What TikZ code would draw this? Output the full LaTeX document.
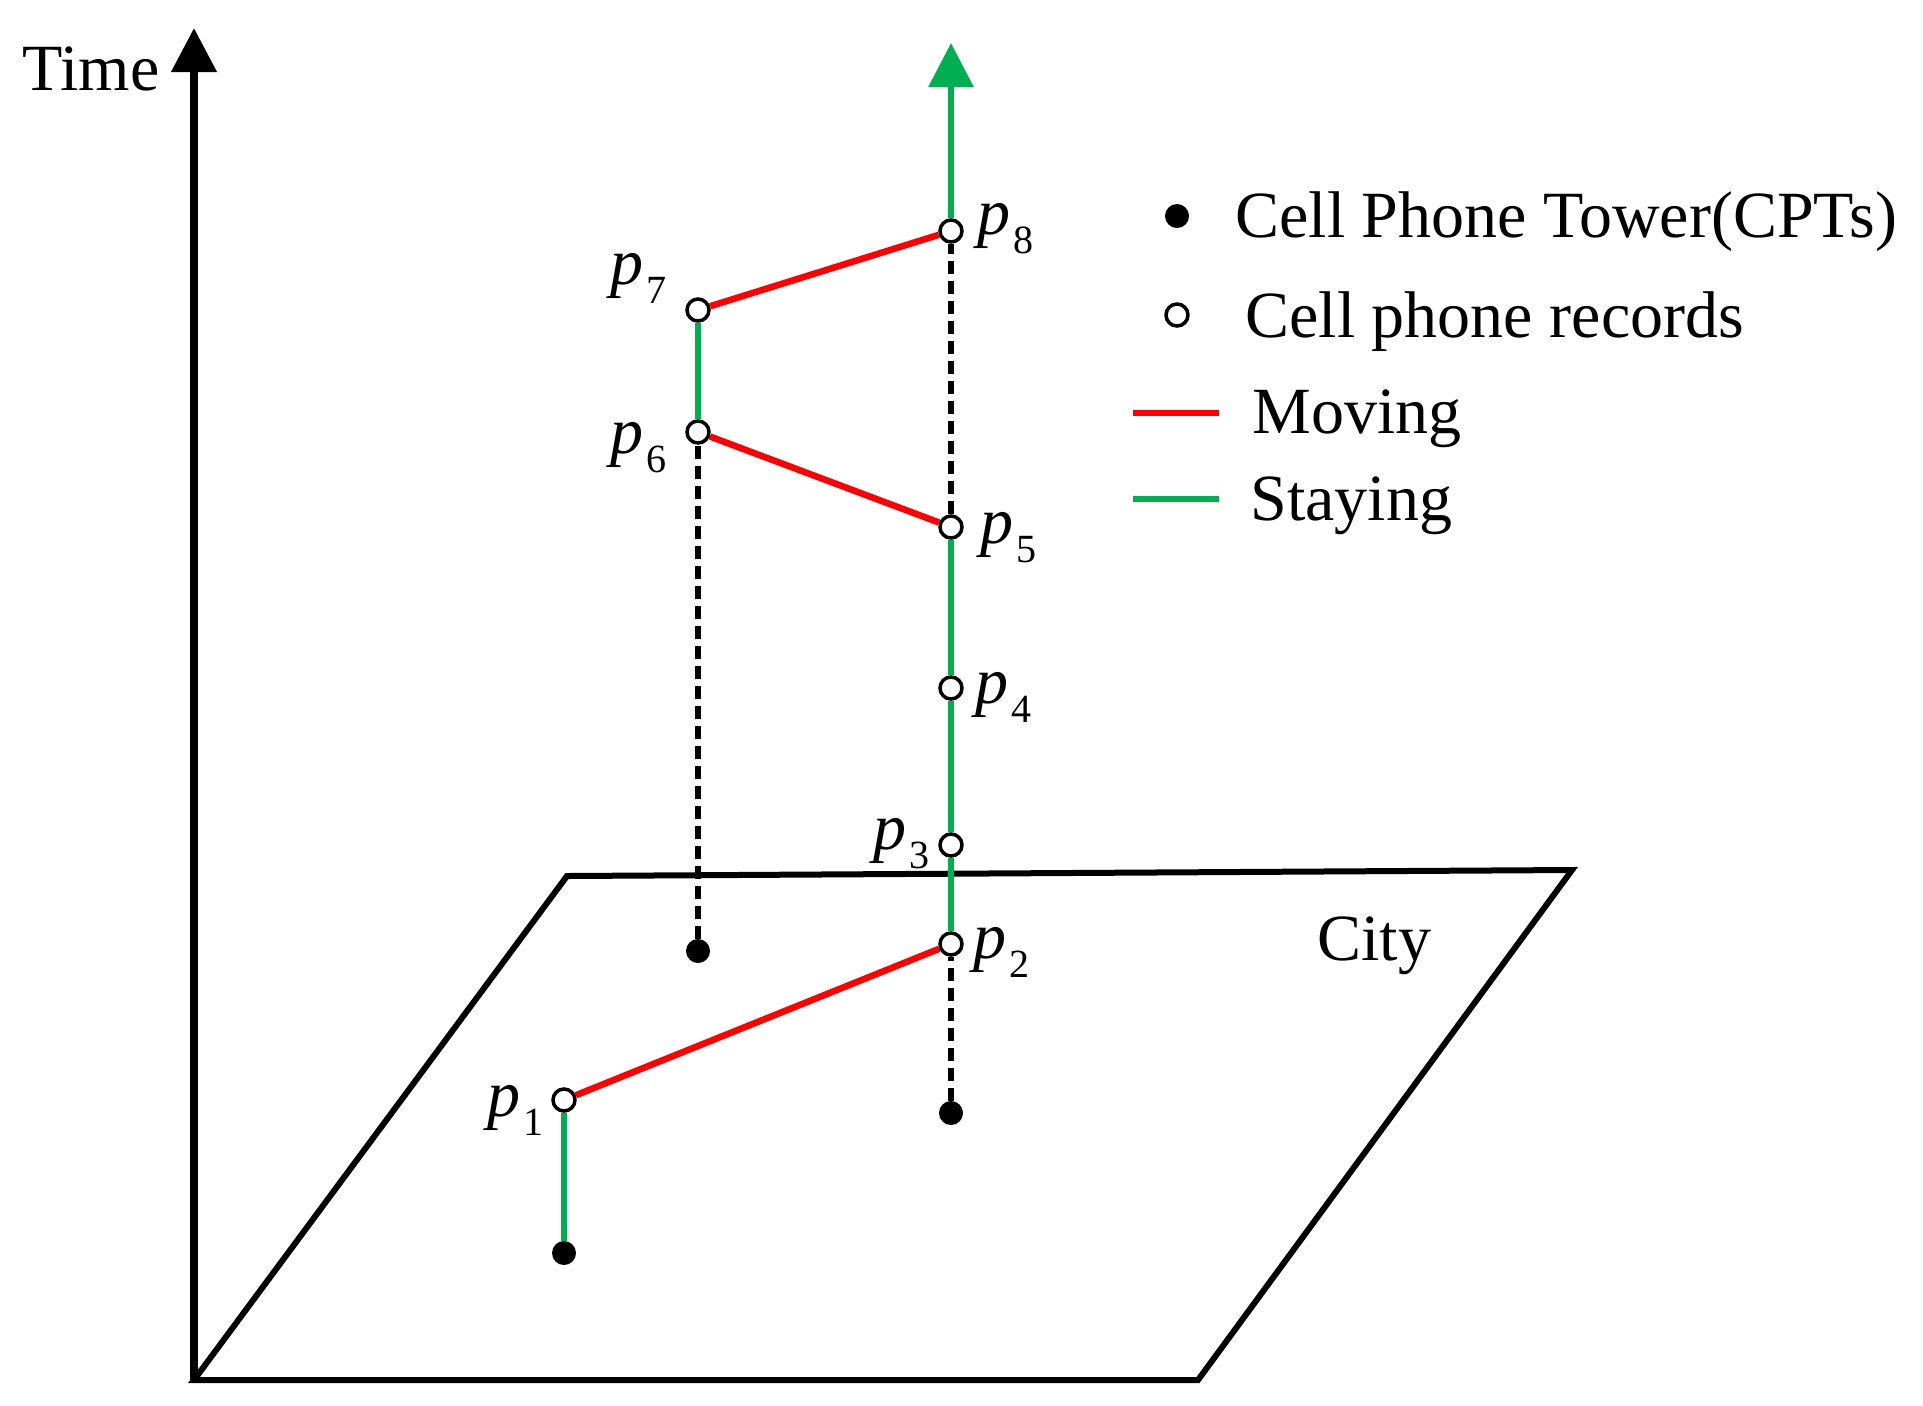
\documentclass[tikz,border=0pt]{standalone}
\usepackage{fontspec}
\setmainfont{Liberation Serif}
\usetikzlibrary{arrows.meta}
\pgfdeclarelayer{bg}
\pgfdeclarelayer{mid}
\pgfsetlayers{bg,mid,main}
\definecolor{mvred}{RGB}{255,0,0}
\definecolor{stgreen}{RGB}{0,176,80}
\newcommand{\plab}[1]{\textit{p}\kern1.5pt\raisebox{-9.5pt}{\fontsize{20}{20}\selectfont #1}}
\tikzset{
  rec/.style={circle, draw=black, fill=white, line width=1.75pt, minimum size=11pt, inner sep=0pt},
  tower/.style={circle, fill=black, minimum size=12pt, inner sep=0pt},
  moving/.style={draw=mvred, line width=3.25pt},
  staying/.style={draw=stgreen, line width=3pt},
  link/.style={draw=black, line width=3pt, dash pattern=on 6.5pt off 3.5pt},
  frame/.style={draw=black, line width=3pt, line join=miter},
  axis/.style={draw=black, line width=3.75pt, -{Triangle[width=22pt,length=22pt]}},
  txt/.style={anchor=base west, inner sep=0pt, font=\fontsize{33}{40}\selectfont}
}
\begin{document}
\begin{tikzpicture}[x=0.5pt, y=-0.5pt]
\useasboundingbox (0,0) rectangle (1923,1405);
% points
\node[rec] (p1) at (564,1100) {};
\node[rec] (p2) at (951,944) {};
\node[rec] (p3) at (951,845) {};
\node[rec] (p4) at (951,688) {};
\node[rec] (p5) at (951,527) {};
\node[rec] (p6) at (698,432) {};
\node[rec] (p7) at (698,310) {};
\node[rec] (p8) at (951,231) {};
\node[tower] (t1) at (564,1253) {};
\node[tower] (t2) at (951,1113) {};
\node[tower] (t6) at (698,951) {};
\coordinate (top) at (951,43);
\coordinate (o) at (194,1380);
\coordinate (taxis) at (194,28);
\coordinate (c2) at (1198,1380);
\coordinate (c3) at (1572,870);
\coordinate (c4) at (567,876);
% plane and axis
\begin{pgfonlayer}{bg}
  \path[frame] (o) -- (c2) -- (c3) -- (c4) -- cycle;
\end{pgfonlayer}
\begin{pgfonlayer}{mid}
  \path[axis] (o) -- (taxis);
  \path[staying] (t1) -- (p1);
  \path[moving] (p1) -- (p2);
  \path[link] (t2) -- (p2);
  \path[staying] (p2) -- (p3);
  \path[staying] (p3) -- (p4);
  \path[staying] (p4) -- (p5);
  \path[moving] (p5) -- (p6);
  \path[link] (t6) -- (p6);
  \path[staying] (p6) -- (p7);
  \path[moving] (p7) -- (p8);
  \path[link] (p5) -- (p8);
  \path[staying, -{Triangle[width=22pt,length=22pt]}] (p8) -- (top);
\end{pgfonlayer}
% labels
\node[txt] (l8) at (977,234) {\plab{8}};
\node[txt] (l7) at (610,284) {\plab{7}};
\node[txt] (l6) at (610,453) {\plab{6}};
\node[txt] (l5) at (980,543) {\plab{5}};
\node[txt] (l4) at (975,703) {\plab{4}};
\node[txt] (l3) at (873,849) {\plab{3}};
\node[txt] (l2) at (973,958) {\plab{2}};
\node[txt] (l1) at (487,1116) {\plab{1}};
\node[txt] (time) at (22,90) {Time};
\node[txt] (city) at (1317,960) {City};
% legend
\node[tower] (lt) at (1177,216) {};
\node[rec] (lr) at (1177,315) {};
\coordinate (lm1) at (1133,413);
\coordinate (lm2) at (1219,413);
\coordinate (ls1) at (1133,499);
\coordinate (ls2) at (1219,499);
\path[moving] (lm1) -- (lm2);
\path[staying] (ls1) -- (ls2);
\node[txt] (lt1) at (1235,237) {Cell Phone Tower(CPTs)};
\node[txt] (lt2) at (1245,337) {Cell phone records};
\node[txt] (lt3) at (1252,433) {Moving};
\node[txt] (lt4) at (1250,520) {Staying};
\end{tikzpicture}
\end{document}
